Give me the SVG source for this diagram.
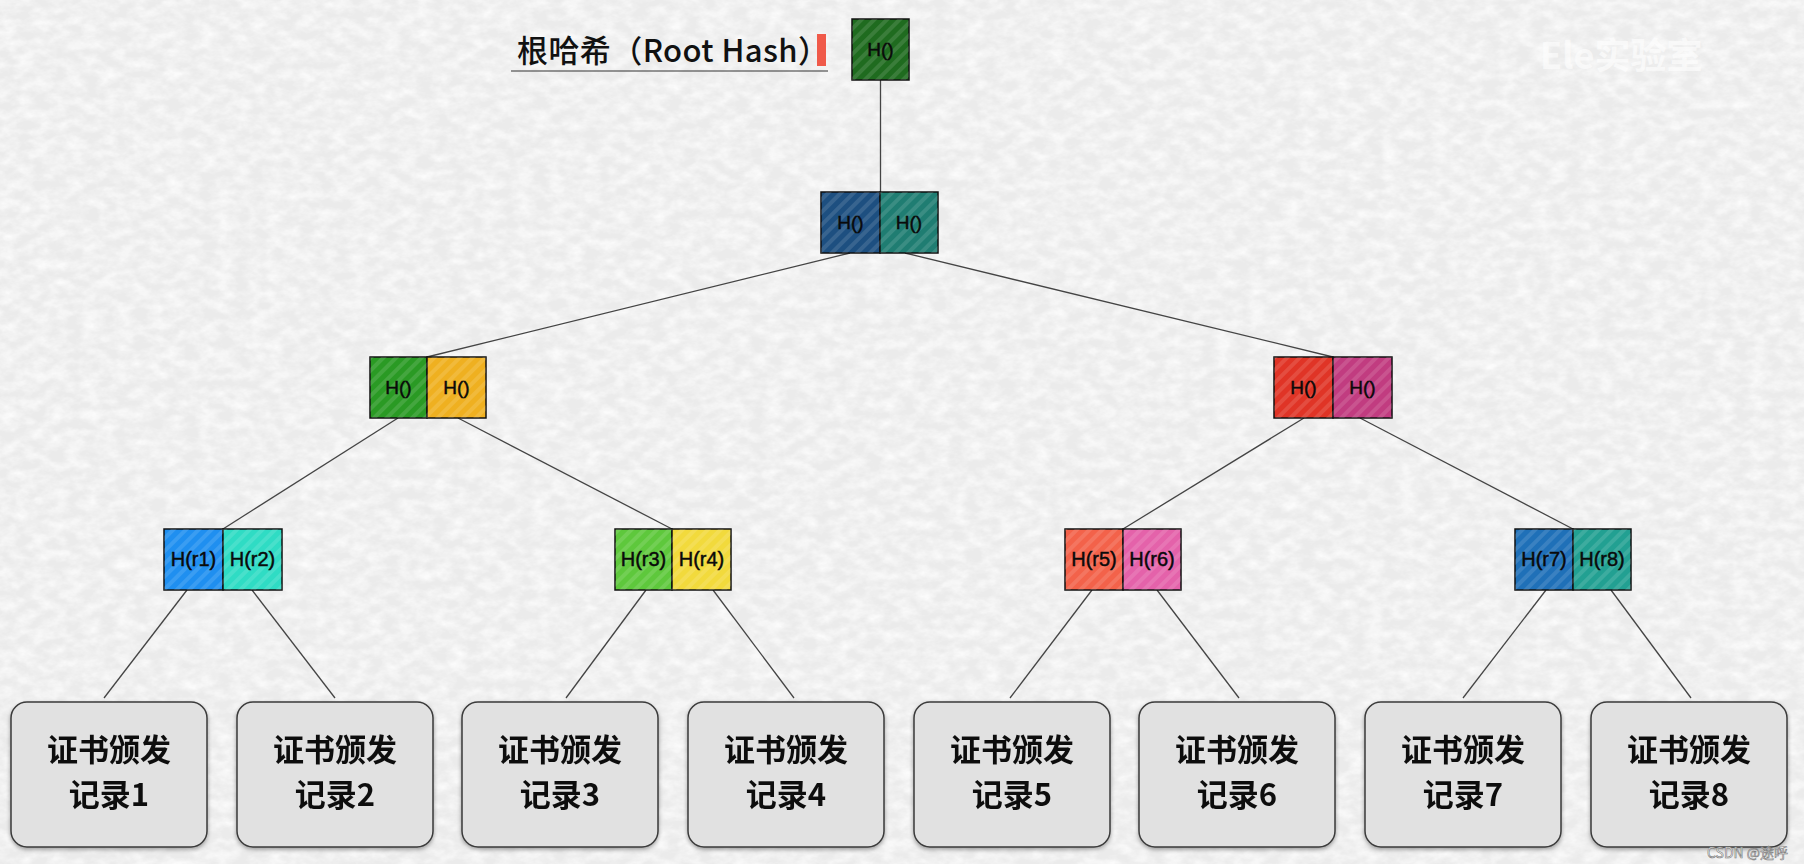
<svg xmlns="http://www.w3.org/2000/svg" width="1804" height="864" viewBox="0 0 1804 864">
<style>
.cell{stroke:#111;stroke-width:1.5}
.stripe{stroke:none}
.ht{font-family:"Liberation Sans",Arial,sans-serif;font-size:19px;fill:#0a0a0a;stroke:#0a0a0a;stroke-width:0.45;text-anchor:middle}
.hr{font-family:"Liberation Sans",Arial,sans-serif;font-size:20px;fill:#0a0a0a;stroke:#0a0a0a;stroke-width:0.45;text-anchor:middle}
.rec{fill:#e1e1e1;stroke:#3a3a3a;stroke-width:1.5}
.rt{font-family:"Noto Sans CJK SC","Liberation Sans",sans-serif;font-size:31px;font-weight:bold;fill:#111;text-anchor:middle}
.conn{stroke:#444;stroke-width:1.3;fill:none}
</style>
<defs>
<pattern id="st" width="9" height="9" patternUnits="userSpaceOnUse" patternTransform="rotate(45)">
<rect x="0" y="0" width="4" height="9" fill="#ffffff" fill-opacity="0.12"/>
</pattern>
<filter id="paper" x="0" y="0" width="100%" height="100%">
<feTurbulence type="fractalNoise" baseFrequency="0.06 0.1" numOctaves="4" seed="5" result="n"/>
<feColorMatrix in="n" type="matrix" values="0 0 0 0 1  0 0 0 0 1  0 0 0 0 1  0 0 0 -1.4 0.95" result="w"/>
<feFlood flood-color="#ebebeb" result="bg"/>
<feComposite in="w" in2="bg" operator="over"/>
</filter>
<filter id="sh" x="-10%" y="-10%" width="120%" height="125%">
<feGaussianBlur in="SourceAlpha" stdDeviation="2"/>
<feOffset dx="0" dy="2" result="b"/>
<feComponentTransfer><feFuncA type="linear" slope="0.35"/></feComponentTransfer>
<feMerge><feMergeNode/><feMergeNode in="SourceGraphic"/></feMerge>
</filter>
</defs>
<rect x="0" y="0" width="1804" height="864" fill="#f0f0f0"/>
<rect x="0" y="0" width="1804" height="864" filter="url(#paper)"/>

<g id="title">
<text x="517" y="62" font-family="'Noto Sans CJK SC','Liberation Sans',sans-serif" font-size="31" font-weight="500" fill="#111" textLength="312" lengthAdjust="spacing">根哈希（Root Hash）</text>
<rect x="817" y="34" width="9" height="32" fill="#f05a4a"/>
<line x1="511" y1="71" x2="828" y2="71" stroke="#333" stroke-width="1.2"/>
</g>

<g id="connectors">
<line class="conn" x1="880.5" y1="80" x2="880.5" y2="192"/>
<line class="conn" x1="850" y1="253" x2="427" y2="357"/>
<line class="conn" x1="905" y1="253" x2="1333" y2="357"/>
<line class="conn" x1="398" y1="418" x2="223" y2="529"/>
<line class="conn" x1="458" y1="418" x2="672" y2="529"/>
<line class="conn" x1="1304" y1="418" x2="1123" y2="529"/>
<line class="conn" x1="1360" y1="418" x2="1573" y2="529"/>
<line class="conn" x1="187" y1="590" x2="104" y2="698"/>
<line class="conn" x1="252" y1="590" x2="335" y2="698"/>
<line class="conn" x1="646" y1="590" x2="566" y2="698"/>
<line class="conn" x1="713" y1="590" x2="794" y2="698"/>
<line class="conn" x1="1092" y1="590" x2="1010" y2="698"/>
<line class="conn" x1="1157" y1="590" x2="1239" y2="698"/>
<line class="conn" x1="1546" y1="590" x2="1463" y2="698"/>
<line class="conn" x1="1611" y1="590" x2="1691" y2="698"/>
</g>

<g id="root">
<rect class="cell" x="852" y="19" width="57" height="61" fill="#1f6b1f"/>
<rect class="stripe" x="852" y="19" width="57" height="61" fill="url(#st)"/>
<text class="ht" x="880.5" y="56">H()</text>
</g>

<g id="l1">
<rect class="cell" x="821" y="192" width="59" height="61" fill="#1d4f80"/>
<rect class="cell" x="880" y="192" width="58" height="61" fill="#1f7d72"/>
<rect class="stripe" x="821" y="192" width="117" height="61" fill="url(#st)"/>
<text class="ht" x="850.5" y="229">H()</text>
<text class="ht" x="909" y="229">H()</text>
</g>

<g id="l2-left">
<rect class="cell" x="370" y="357" width="57" height="61" fill="#2a9a24"/>
<rect class="cell" x="427" y="357" width="59" height="61" fill="#efb020"/>
<rect class="stripe" x="370" y="357" width="116" height="61" fill="url(#st)"/>
<text class="ht" x="398.5" y="394">H()</text>
<text class="ht" x="456.5" y="394">H()</text>
</g>

<g id="l2-right">
<rect class="cell" x="1274" y="357" width="59" height="61" fill="#e03426"/>
<rect class="cell" x="1333" y="357" width="59" height="61" fill="#c13c80"/>
<rect class="stripe" x="1274" y="357" width="118" height="61" fill="url(#st)"/>
<text class="ht" x="1303.5" y="394">H()</text>
<text class="ht" x="1362.5" y="394">H()</text>
</g>

<g id="leaf12">
<rect class="cell" x="164" y="529" width="59" height="61" fill="#1f8ff0"/>
<rect class="cell" x="223" y="529" width="59" height="61" fill="#2fdcc4"/>
<rect class="stripe" x="164" y="529" width="118" height="61" fill="url(#st)"/>
<text class="hr" x="193.5" y="566">H(r1)</text>
<text class="hr" x="252.5" y="566">H(r2)</text>
</g>

<g id="leaf34">
<rect class="cell" x="615" y="529" width="57" height="61" fill="#5ec83c"/>
<rect class="cell" x="672" y="529" width="59" height="61" fill="#f2da3c"/>
<rect class="stripe" x="615" y="529" width="116" height="61" fill="url(#st)"/>
<text class="hr" x="643.5" y="566">H(r3)</text>
<text class="hr" x="701.5" y="566">H(r4)</text>
</g>

<g id="leaf56">
<rect class="cell" x="1065" y="529" width="58" height="61" fill="#f3624a"/>
<rect class="cell" x="1123" y="529" width="58" height="61" fill="#e462aa"/>
<rect class="stripe" x="1065" y="529" width="116" height="61" fill="url(#st)"/>
<text class="hr" x="1094" y="566">H(r5)</text>
<text class="hr" x="1152" y="566">H(r6)</text>
</g>

<g id="leaf78">
<rect class="cell" x="1515" y="529" width="58" height="61" fill="#1f70b8"/>
<rect class="cell" x="1573" y="529" width="58" height="61" fill="#22a092"/>
<rect class="stripe" x="1515" y="529" width="116" height="61" fill="url(#st)"/>
<text class="hr" x="1544" y="566">H(r7)</text>
<text class="hr" x="1602" y="566">H(r8)</text>
</g>

<g id="rec1" filter="url(#sh)"><rect class="rec" x="11" y="702" width="196" height="145" rx="16"/><text class="rt" x="109" y="761">证书颁发</text><text class="rt" x="109" y="806">记录1</text></g>
<g id="rec2" filter="url(#sh)"><rect class="rec" x="237" y="702" width="196" height="145" rx="16"/><text class="rt" x="335" y="761">证书颁发</text><text class="rt" x="335" y="806">记录2</text></g>
<g id="rec3" filter="url(#sh)"><rect class="rec" x="462" y="702" width="196" height="145" rx="16"/><text class="rt" x="560" y="761">证书颁发</text><text class="rt" x="560" y="806">记录3</text></g>
<g id="rec4" filter="url(#sh)"><rect class="rec" x="688" y="702" width="196" height="145" rx="16"/><text class="rt" x="786" y="761">证书颁发</text><text class="rt" x="786" y="806">记录4</text></g>
<g id="rec5" filter="url(#sh)"><rect class="rec" x="914" y="702" width="196" height="145" rx="16"/><text class="rt" x="1012" y="761">证书颁发</text><text class="rt" x="1012" y="806">记录5</text></g>
<g id="rec6" filter="url(#sh)"><rect class="rec" x="1139" y="702" width="196" height="145" rx="16"/><text class="rt" x="1237" y="761">证书颁发</text><text class="rt" x="1237" y="806">记录6</text></g>
<g id="rec7" filter="url(#sh)"><rect class="rec" x="1365" y="702" width="196" height="145" rx="16"/><text class="rt" x="1463" y="761">证书颁发</text><text class="rt" x="1463" y="806">记录7</text></g>
<g id="rec8" filter="url(#sh)"><rect class="rec" x="1591" y="702" width="196" height="145" rx="16"/><text class="rt" x="1689" y="761">证书颁发</text><text class="rt" x="1689" y="806">记录8</text></g>

<g id="watermarks">
<text x="1540" y="69" font-family="'Noto Sans CJK SC','Liberation Sans',sans-serif" font-size="36" font-weight="bold" fill="#ffffff" fill-opacity="0.6">Ele实验室</text>
<text x="1707" y="858" font-family="'Noto Sans CJK SC','Liberation Sans',sans-serif" font-size="14" fill="#ffffff" stroke="#777" stroke-width="0.6">CSDN @途呼</text>
</g>
</svg>
